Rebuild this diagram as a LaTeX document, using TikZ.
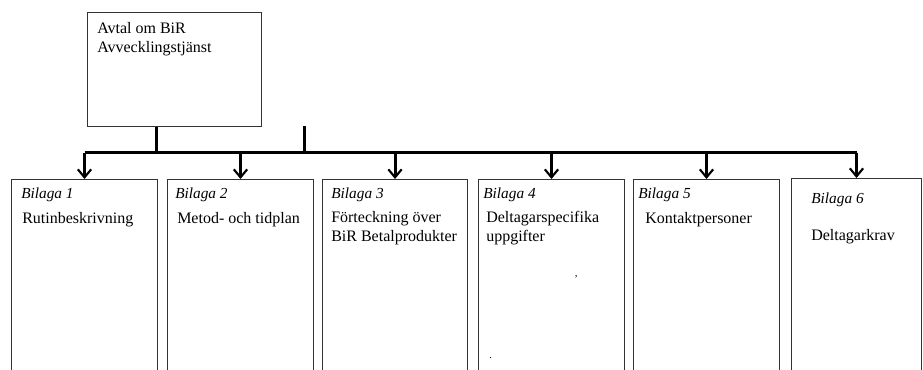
\documentclass[tikz,border=0pt]{standalone}
\usepackage{fontspec}
\setmainfont{Liberation Serif}
\usetikzlibrary{arrows.meta}

\begin{document}
\begin{tikzpicture}[
		x=0.75pt, y=-0.75pt,
		box/.style={draw=black!80, line width=0.75pt, rectangle, anchor=north west, minimum height=165pt},
		t/.style={anchor=base west, inner sep=0pt, font=\fontsize{12}{14.25}\selectfont, align=left},
		tag/.style={t, font=\fontsize{11.5}{14}\selectfont\itshape},
		a/.style={line width=2.25pt, -{Straight Barb[length=6pt, width=10pt, line width=1.6pt]}},
		bus/.style={line width=2.25pt},
	]
		\path[use as bounding box, clip] (0,0) rectangle (923,369);

		\node[box, minimum width=130.5pt, minimum height=85.5pt] (Avtal) at (87,12) {};
		\node[box, minimum width=109.5pt] (B1) at (11,179) {};
		\node[box, minimum width=109.5pt] (B2) at (167,179) {};
		\node[box, minimum width=108.75pt] (B3) at (322,179) {};
		\node[box, minimum width=109.5pt] (B4) at (478,179) {};
		\node[box, minimum width=109.5pt] (B5) at (633,179) {};
		\node[box, minimum width=97.5pt] (B6) at (791,178) {};

		% texts (two-line ones sit on the baseline of their last line)
		\node[t] (AvtalText) at (97,52) {Avtal om BiR\\Avvecklingstjänst};
		\node[tag] (T1) at (21,198) {Bilaga 1};
		\node[t] (R1) at (22,223) {Rutinbeskrivning};
		\node[tag] (T2) at (175,198) {Bilaga 2};
		\node[t] (R2) at (177,223) {Metod- och tidplan};
		\node[tag] (T3) at (331,198) {Bilaga 3};
		\node[t] (R3) at (331,241) {Förteckning över\\BiR Betalprodukter};
		\node[tag] (T4) at (483,198) {Bilaga 4};
		\node[t] (R4) at (486,241) {Deltagarspecifika\\uppgifter};
		\node[t, font=\fontsize{8}{8}\selectfont] (Q4) at (574,282) {’};
		\node[t, font=\fontsize{8}{8}\selectfont] (P4) at (489,358) {.};
		\node[tag] (T5) at (638,198) {Bilaga 5};
		\node[t] (R5) at (645,223) {Kontaktpersoner};
		\node[tag] (T6) at (811,203) {Bilaga 6};
		\node[t] (R6) at (811,240) {Deltagarkrav};

		% connectors
		\coordinate (Hub) at (156,152.5);
		\coordinate (Stub) at (304,126);
		\draw[bus] (Hub |- Avtal.south) -- (Hub);
		\draw[bus] (Stub) -- (Stub |- Hub);
		\draw[bus] (B1.north |- Hub) -- (B6.north |- Hub);
		\foreach \b in {B1,B2,B3,B4,B5,B6}
			\draw[a] (\b.north |- Hub) -- (\b.north);
	\end{tikzpicture}
\end{document}
